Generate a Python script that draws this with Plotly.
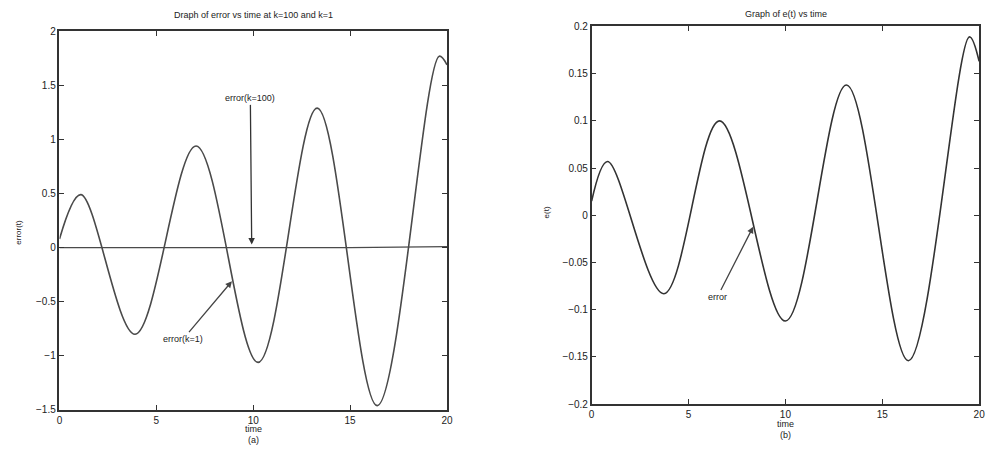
import plotly.graph_objects as go

# ---- data ----
t_k1 = [0, 1.1, 3.9, 7.05, 10.25, 13.3, 16.4, 19.6, 20]
err_k1 = [0.08, 0.49, -0.80, 0.94, -1.06, 1.29, -1.46, 1.77, 1.69]

t_k100 = [0, 5, 10, 15, 20]
err_k100 = [0.0, 0.0, 0.0, 0.0, 0.01]

t_e = [0, 0.82, 3.73, 6.6, 10.0, 13.15, 16.35, 19.5, 20]
e_t = [0.015, 0.057, -0.083, 0.100, -0.112, 0.138, -0.154, 0.189, 0.163]

x_ticks = [0, 5, 10, 15, 20]
left_yticks = [-1.5, -1, -0.5, 0, 0.5, 1, 1.5, 2]
right_yticks = [-0.2, -0.15, -0.1, -0.05, 0, 0.05, 0.1, 0.15, 0.2]

FONT = "Liberation Sans, Arial, sans-serif"

fig = go.Figure()
fig.add_trace(go.Scatter(x=t_k1, y=err_k1, mode="lines", line=dict(color="#4a4a4a", width=1.6, shape="spline", smoothing=1.0),
                         xaxis="x", yaxis="y", showlegend=False))
fig.add_trace(go.Scatter(x=t_k100, y=err_k100, mode="lines", line=dict(color="#4a4a4a", width=1.2),
                         xaxis="x", yaxis="y", showlegend=False))
fig.add_trace(go.Scatter(x=t_e, y=e_t, mode="lines", line=dict(color="#333333", width=1.6, shape="spline", smoothing=1.0),
                         xaxis="x2", yaxis="y2", showlegend=False))

axis_common = dict(showgrid=False, zeroline=False, showline=True, linecolor="#333", linewidth=1.5,
                   mirror="ticks", ticks="inside", ticklen=5, tickcolor="#333",
                   tickfont=dict(family=FONT, size=10, color="#222"))

fig.update_layout(
    width=995, height=452,
    margin=dict(l=0, r=0, t=0, b=0),
    paper_bgcolor="white", plot_bgcolor="white",
    xaxis=dict(domain=[0.0573, 0.4503], range=[0, 20], tickvals=x_ticks, anchor="y", **axis_common),
    yaxis=dict(domain=[0.0819, 0.9425], range=[-1.5, 2], tickvals=left_yticks, anchor="x", **axis_common),
    xaxis2=dict(domain=[0.597, 0.990], range=[0, 20], tickvals=x_ticks, anchor="y2", **axis_common),
    yaxis2=dict(domain=[0.0951, 0.9535], range=[-0.2, 0.2], tickvals=right_yticks, anchor="x2", **axis_common),
)

ann = []
def paper_text(x, y, text, size=9, angle=0):
    ann.append(dict(xref="paper", yref="paper", x=x / 995, y=1 - y / 452, text=text, showarrow=False,
                    xanchor="center", yanchor="middle", textangle=angle,
                    font=dict(family=FONT, size=size, color="#222")))

paper_text(253, 9, "Draph of error vs time at k=100 and k=1", size=9)
paper_text(790, 8, "Graph of e(t) vs time", size=9)
paper_text(253, 435, "time", size=9)
paper_text(253, 446, "(a)", size=9)
paper_text(790, 429, "time", size=9)
paper_text(790, 441, "(b)", size=9)
paper_text(16, 232, "error(t)", size=8, angle=-90)
paper_text(548, 212, "e(t)", size=8, angle=-90)

# arrows
ann.append(dict(xref="x", yref="y", axref="x", ayref="y", x=9.92, y=0.03, ax=9.85, ay=1.38,
                text="error(k=100)", showarrow=True, arrowhead=2, arrowsize=1, arrowwidth=1.3, arrowcolor="#333",
                font=dict(family=FONT, size=9, color="#222")))
ann.append(dict(xref="x", yref="y", axref="x", ayref="y", x=8.9, y=-0.31, ax=6.4, ay=-0.84,
                text="error(k=1)", showarrow=True, arrowhead=2, arrowsize=1, arrowwidth=1.3, arrowcolor="#444",
                font=dict(family=FONT, size=9, color="#222")))
ann.append(dict(xref="x2", yref="y2", axref="x2", ayref="y2", x=8.34, y=-0.012, ax=6.5, ay=-0.086,
                text="error", showarrow=True, arrowhead=2, arrowsize=1, arrowwidth=1.3, arrowcolor="#444",
                font=dict(family=FONT, size=9, color="#222")))

fig.update_layout(annotations=ann)
fig.write_html("out.html")
